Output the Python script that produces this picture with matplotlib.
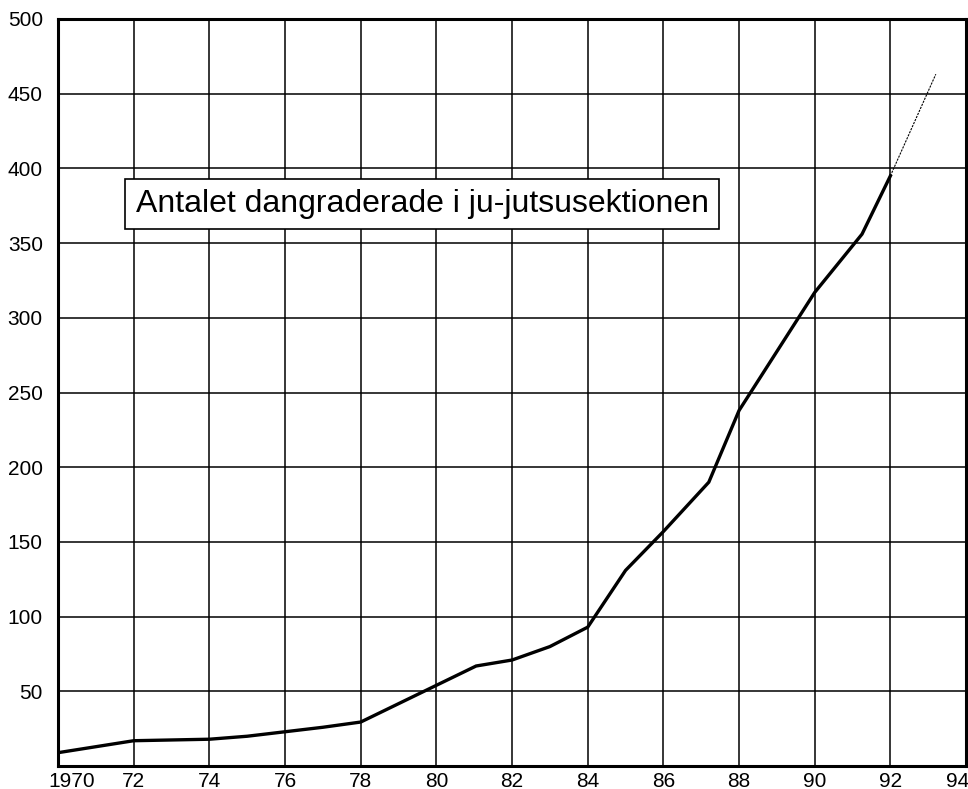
import matplotlib
matplotlib.use("Agg")
import matplotlib.pyplot as plt
import matplotlib.transforms as mtransforms

plt.rcParams["font.family"] = ["Liberation Sans", "DejaVu Sans"]

# Number of dan grades
years = [1970, 1972, 1973, 1974, 1975, 1976, 1977, 1978, 1981.05, 1982, 1983,
         1984, 1985, 1986, 1987.2, 1988, 1990, 1991.25, 1992]
counts = [9, 17, 17.5, 18, 20, 23, 26, 29.5, 67, 71, 80,
          93, 131, 157, 190, 238, 317, 356, 395]

# thin projected continuation
proj_years = [1992, 1993.2]
proj_counts = [395, 463]

x_ticks = list(range(1970, 1995, 2))
x_labels = ["1970"] + [str(y % 100) for y in x_ticks[1:]]
y_ticks = list(range(50, 501, 50))

title = "Antalet dangraderade i ju-jutsusektionen"

fig = plt.figure(figsize=(9.68, 7.89), dpi=100, facecolor="white")
ax = fig.add_axes([0.060, 0.029, 0.938, 0.947])

ax.plot(years, counts, color="black", lw=2.4, zorder=3, solid_joinstyle="miter")
ax.plot(proj_years, proj_counts, color="black", lw=0.8, ls=(0, (2, 1)), zorder=3)

ax.set_xlim(1970, 1994)
ax.set_ylim(0, 500)
ax.set_xticks(x_ticks)
ax.set_xticklabels(x_labels)
ax.set_yticks(y_ticks)
ax.grid(True, color="black", lw=1.1, zorder=1)
ax.set_axisbelow(True)
ax.tick_params(axis="both", length=0, labelsize=15, colors="black")
ax.tick_params(axis="y", pad=11)
ax.tick_params(axis="x", pad=4)
for sp in ax.spines.values():
    sp.set_linewidth(2.2)
    sp.set_color("black")

# keep the end labels inside the figure like the original
labels = ax.get_xticklabels()
labels[0].set_horizontalalignment("left")
labels[0].set_transform(labels[0].get_transform() +
                        mtransforms.ScaledTranslation(-10 / 100, 0, fig.dpi_scale_trans))
labels[-1].set_horizontalalignment("right")
labels[-1].set_transform(labels[-1].get_transform() +
                         mtransforms.ScaledTranslation(3 / 100, 0, fig.dpi_scale_trans))

ax.text(1972.05, 376, title, fontsize=23, ha="left", va="center", zorder=4,
        bbox=dict(boxstyle="square,pad=0.32", fc="white", ec="black", lw=1.2))

fig.savefig("out.png", dpi=100, facecolor="white")
